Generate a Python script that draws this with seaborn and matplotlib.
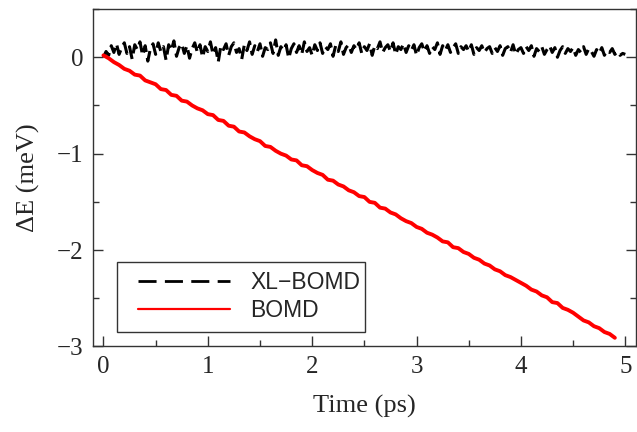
import numpy as np
import pandas as pd
import matplotlib
matplotlib.use('Agg')
import matplotlib.pyplot as plt
from matplotlib.patches import Rectangle
from matplotlib.ticker import MultipleLocator
import seaborn as sns

# energy drift dE (meV) for XL-BOMD, one value every 0.025 ps
xl_step = 0.025
xl_bomd = [
    0.00, 0.06, 0.02, 0.12, 0.05, 0.14, 0.03, 0.10, 0.15, 0.04,
    0.11, -0.02, 0.13, 0.08, 0.16, 0.02, 0.12, -0.04, 0.09, 0.14,
    0.03, 0.15, 0.06, 0.11, -0.03, 0.13, 0.07, 0.17, 0.01, 0.10,
    0.14, 0.04, 0.12, -0.01, 0.09, 0.15, 0.05, 0.13, 0.00, 0.11,
    0.06, 0.16, 0.03, 0.10, -0.05, 0.12, 0.08, 0.14, 0.02, 0.11,
    0.15, 0.05, 0.09, -0.02, 0.13, 0.07, 0.16, 0.03, 0.12, 0.06,
    0.14, 0.01, 0.10, 0.08, 0.15, 0.04, 0.18, 0.02, 0.11, 0.07,
    0.13, -0.01, 0.09, 0.14, 0.05, 0.12, 0.03, 0.16, 0.06, 0.10,
    0.02, 0.13, 0.07, 0.15, 0.04, 0.11, 0.08, 0.14, 0.01, 0.12,
    0.06, 0.16, 0.03, 0.10, 0.13, 0.05, 0.12, 0.08, 0.15, 0.04,
    0.11, 0.07, 0.14, 0.02, 0.12, 0.09, 0.16, 0.05, 0.10, 0.13,
    0.06, 0.15, 0.03, 0.11, 0.08, 0.14, 0.05, 0.12, 0.07, 0.13,
    0.02, 0.10, 0.14, 0.06, 0.12, 0.04, 0.11, 0.08, 0.15, 0.03,
    0.12, 0.07, 0.13, 0.05, 0.10, 0.14, 0.04, 0.11, 0.08, 0.12,
    0.06, 0.13, 0.03, 0.10, 0.07, 0.12, 0.05, 0.09, 0.11, 0.04,
    0.10, 0.06, 0.12, 0.02, 0.09, 0.11, 0.05, 0.13, 0.03, 0.08,
    0.10, 0.04, 0.11, 0.07, 0.12, 0.01, 0.09, 0.06, 0.11, 0.03,
    0.08, 0.12, 0.05, 0.10, 0.00, 0.07, 0.11, 0.04, 0.09, 0.06,
    0.10, 0.02, 0.08, 0.05, 0.11, 0.03, 0.09, 0.06, 0.01, 0.08,
    0.04, 0.10, 0.02, 0.07, 0.05, 0.09, 0.03, 0.06, 0.02, 0.04,
    0.03,
]

# energy drift dE (meV) for plain BOMD, one value every 0.05 ps
bo_step = 0.05
bomd = [
    0.02, -0.01, -0.05, -0.08, -0.12, -0.14, -0.18, -0.19, -0.24, -0.26,
    -0.28, -0.33, -0.34, -0.39, -0.40, -0.45, -0.46, -0.50, -0.53, -0.55,
    -0.59, -0.60, -0.65, -0.66, -0.71, -0.72, -0.77, -0.78, -0.82, -0.85,
    -0.87, -0.92, -0.93, -0.97, -1.00, -1.02, -1.06, -1.07, -1.12, -1.13,
    -1.17, -1.20, -1.22, -1.27, -1.28, -1.32, -1.34, -1.38, -1.40, -1.44,
    -1.45, -1.50, -1.51, -1.56, -1.57, -1.61, -1.63, -1.67, -1.70, -1.72,
    -1.76, -1.78, -1.82, -1.84, -1.87, -1.91, -1.92, -1.97, -1.98, -2.02,
    -2.04, -2.08, -2.10, -2.14, -2.16, -2.20, -2.22, -2.26, -2.28, -2.31,
    -2.34, -2.37, -2.41, -2.43, -2.47, -2.49, -2.54, -2.55, -2.60, -2.62,
    -2.65, -2.69, -2.73, -2.75, -2.79, -2.81, -2.85, -2.87, -2.91,
]

x_ticks = [0, 1, 2, 3, 4, 5]
y_ticks = [-3, -2, -1, 0]

df_xl = pd.DataFrame({'t': np.arange(len(xl_bomd)) * xl_step, 'dE': xl_bomd})
df_bo = pd.DataFrame({'t': np.arange(len(bomd)) * bo_step, 'dE': bomd})

sns.set_theme(style='ticks')
plt.rcParams['font.family'] = ['Liberation Serif', 'DejaVu Serif']

spine_col = '#333333'

fig = plt.figure(figsize=(6.37, 4.32), dpi=100)
ax = fig.add_axes([0.146, 0.198, 0.852, 0.781])

sns.lineplot(data=df_xl, x='t', y='dE', ax=ax, color='black', lw=2.2,
             estimator=None, sort=False, label='XL\u2212BOMD')
ax.lines[-1].set_dashes((4.4, 2.0))
sns.lineplot(data=df_bo, x='t', y='dE', ax=ax, color='red', lw=2.8,
             estimator=None, sort=False, label='BOMD')

ax.set_xlim(-0.1, 5.1)
ax.set_ylim(-3, 0.5)
ax.set_xticks(x_ticks)
ax.set_yticks(y_ticks)
ax.xaxis.set_minor_locator(MultipleLocator(0.5))
ax.yaxis.set_minor_locator(MultipleLocator(0.5))
ax.tick_params(which='both', direction='in', top=False, right=True,
               color=spine_col, width=1.0, labelsize=18, pad=7)
ax.tick_params(which='major', length=7.5)
ax.tick_params(which='minor', length=4)
for s in ax.spines.values():
    s.set_color(spine_col)
    s.set_linewidth(1.0)

ax.set_xlabel('Time (ps)', fontsize=19, labelpad=12)
ax.set_ylabel('\u0394E (meV)', fontsize=19, labelpad=12)

# legend box drawn by hand so that the side padding matches the original
ax.add_patch(Rectangle((0.044, 0.044), 0.458, 0.207, transform=ax.transAxes,
                       facecolor='white', edgecolor=spine_col, lw=1.0, zorder=4))
handles, labels = ax.get_legend_handles_labels()
leg = ax.legend(handles, labels, loc='center left', bbox_to_anchor=(0.083, 0.147),
                frameon=False, borderpad=0, borderaxespad=0, handlelength=4.0,
                handletextpad=0.9, labelspacing=0.22,
                prop={'family': 'Liberation Sans', 'size': 16.5})
leg.set_zorder(5)
leg_lines = leg.get_lines()
leg_lines[0].set_linewidth(2.0)
leg_lines[0].set_dashes((6.5, 3.0))
leg_lines[1].set_linewidth(1.6)

fig.savefig('out.png', dpi=100)
